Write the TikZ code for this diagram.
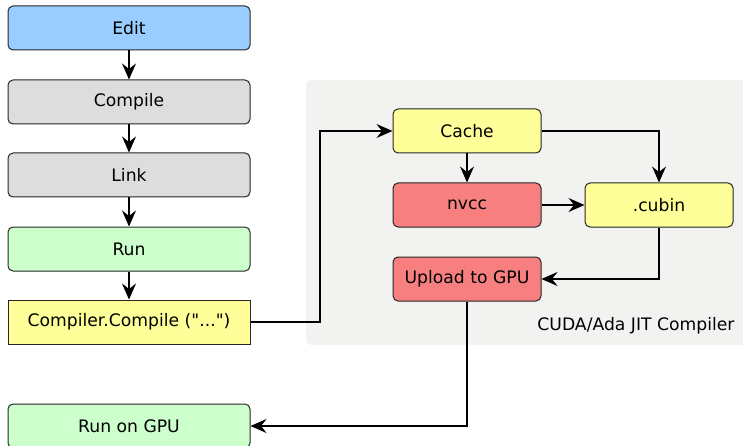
\documentclass[tikz,border=0pt]{standalone}
\usepackage{fontspec}
\setmainfont{DejaVu Sans}[Ligatures=TeXOff]
\usetikzlibrary{arrows.meta}
\definecolor{editblue}{HTML}{99CCFF}
\definecolor{stepgray}{HTML}{DDDDDD}
\definecolor{rungreen}{HTML}{CCFFCC}
\definecolor{cacheyellow}{HTML}{FFFF99}
\definecolor{gpured}{HTML}{F77F7F}
\definecolor{regiongray}{HTML}{F2F2F0}
\begin{document}
\begin{tikzpicture}[x=1pt,y=-1pt,
  lbl/.style={font=\fontsize{17.2}{20}\selectfont},
  box/.style={lbl, draw=black!85, line width=1pt, rounded corners=5pt, minimum width=242pt,
    minimum height=44pt, inner sep=0pt},
  jitbox/.style={box, minimum width=148pt},
  flow/.style={line width=1.4pt, -{Stealth[length=16pt,width=14pt,inset=5.5pt]}}]
\useasboundingbox (0,0) rectangle (743,446);
% JIT compiler region
\fill[regiongray, rounded corners=6pt] (306,80) rectangle (760,345);
\node[lbl, anchor=east] (jitlabel) at (738,326) {CUDA/Ada JIT Compiler};
% left-hand workflow
\node[box, fill=editblue] (edit) at (129,28) {Edit};
\node[box, fill=stepgray] (compile) at (129,102) {Compile};
\node[box, fill=stepgray] (link) at (129,175) {Link};
\node[box, fill=rungreen] (run) at (129,249) {Run};
\node[box, fill=cacheyellow, rounded corners=0pt] (jit) at (129,322) {Compiler.Compile ("...")};
\node[box, fill=rungreen] (rungpu) at (129,426) {Run on GPU};
% JIT compiler steps
\node[jitbox, fill=cacheyellow] (cache) at (467,131) {Cache};
\node[jitbox, fill=gpured] (nvcc) at (467,205) {nvcc};
\node[jitbox, fill=cacheyellow] (cubin) at (659,205) {.cubin};
\node[jitbox, fill=gpured] (upload) at (467,279) {Upload to GPU};
% connectors
\draw[flow] (edit) -- (compile);
\draw[flow] (compile) -- (link);
\draw[flow] (link) -- (run);
\draw[flow] (run) -- (jit);
\draw[flow] (jit.east) -- (320,322) |- (cache.west);
\draw[flow] (cache) -- (nvcc);
\draw[flow] (cache.east) -| (cubin.north);
\draw[flow] (nvcc) -- (cubin);
\draw[flow] (cubin.south) |- (upload.east);
\draw[flow] (upload.south) |- (rungpu.east);
\end{tikzpicture}
\end{document}
